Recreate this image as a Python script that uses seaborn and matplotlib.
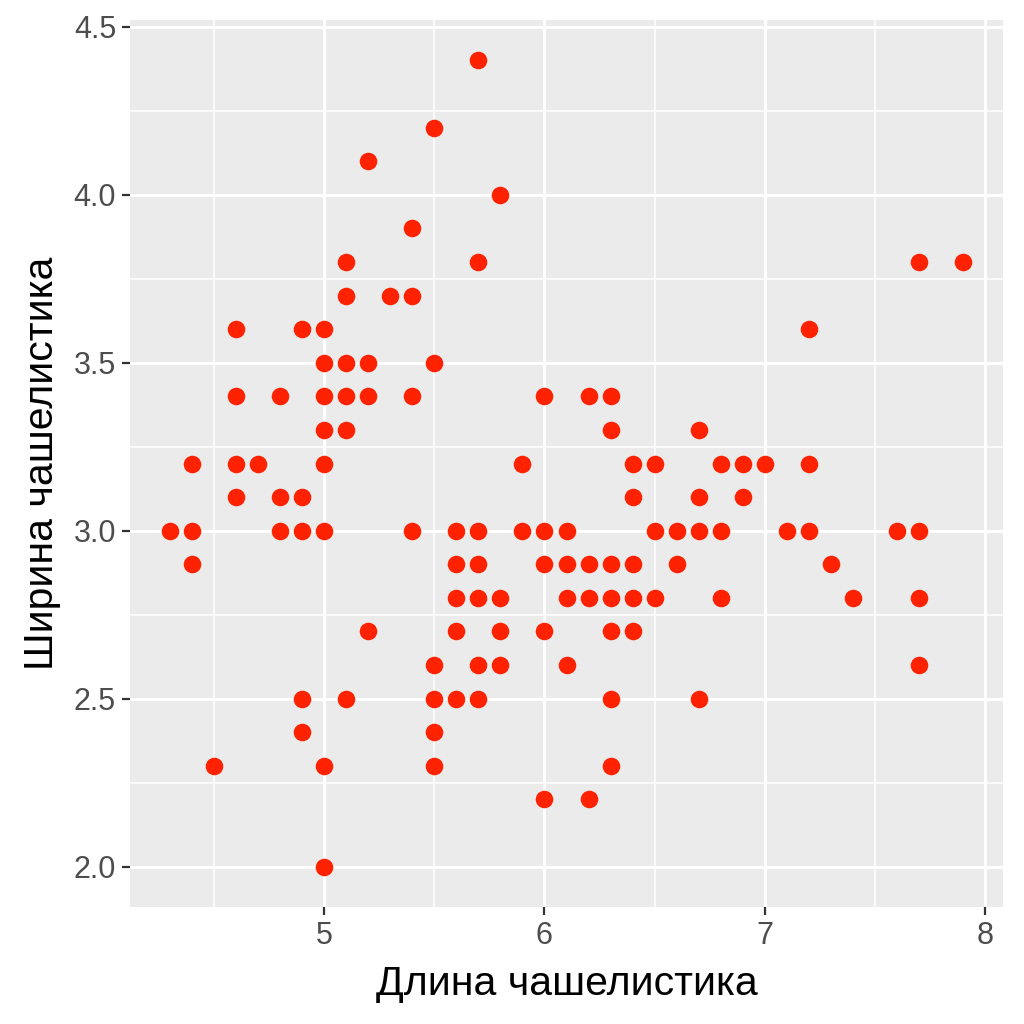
import numpy as np
import pandas as pd
import seaborn as sns
import matplotlib.pyplot as plt
from matplotlib.ticker import MultipleLocator

# iris: sepal length / sepal width
sepal_length = [5.1, 4.9, 4.7, 4.6, 5.0, 5.4, 4.6, 5.0, 4.4, 4.9, 5.4, 4.8, 4.8, 4.3, 5.8, 5.7, 5.4, 5.1, 5.7, 5.1,
                5.4, 5.1, 4.6, 5.1, 4.8, 5.0, 5.0, 5.2, 5.2, 4.7, 4.8, 5.4, 5.2, 5.5, 4.9, 5.0, 5.5, 4.9, 4.4, 5.1,
                5.0, 4.5, 4.4, 5.0, 5.1, 4.8, 5.1, 4.6, 5.3, 5.0,
                7.0, 6.4, 6.9, 5.5, 6.5, 5.7, 6.3, 4.9, 6.6, 5.2, 5.0, 5.9, 6.0, 6.1, 5.6, 6.7, 5.6, 5.8, 6.2, 5.6,
                5.9, 6.1, 6.3, 6.1, 6.4, 6.6, 6.8, 6.7, 6.0, 5.7, 5.5, 5.5, 5.8, 6.0, 5.4, 6.0, 6.7, 6.3, 5.6, 5.5,
                5.5, 6.1, 5.8, 5.0, 5.6, 5.7, 5.7, 6.2, 5.1, 5.7,
                6.3, 5.8, 7.1, 6.3, 6.5, 7.6, 4.9, 7.3, 6.7, 7.2, 6.5, 6.4, 6.8, 5.7, 5.8, 6.4, 6.5, 7.7, 7.7, 6.0,
                6.9, 5.6, 7.7, 6.3, 6.7, 7.2, 6.2, 6.1, 6.4, 7.2, 7.4, 7.9, 6.4, 6.3, 6.1, 7.7, 6.3, 6.4, 6.0, 6.9,
                6.7, 6.9, 5.8, 6.8, 6.7, 6.7, 6.3, 6.5, 6.2, 5.9]
sepal_width = [3.5, 3.0, 3.2, 3.1, 3.6, 3.9, 3.4, 3.4, 2.9, 3.1, 3.7, 3.4, 3.0, 3.0, 4.0, 4.4, 3.9, 3.5, 3.8, 3.8,
               3.4, 3.7, 3.6, 3.3, 3.4, 3.0, 3.4, 3.5, 3.4, 3.2, 3.1, 3.4, 4.1, 4.2, 3.1, 3.2, 3.5, 3.6, 3.0, 3.4,
               3.5, 2.3, 3.2, 3.5, 3.8, 3.0, 3.8, 3.2, 3.7, 3.3,
               3.2, 3.2, 3.1, 2.3, 2.8, 2.8, 3.3, 2.4, 2.9, 2.7, 2.0, 3.0, 2.2, 2.9, 2.9, 3.1, 3.0, 2.7, 2.2, 2.5,
               3.2, 2.8, 2.5, 2.8, 2.9, 3.0, 2.8, 3.0, 2.9, 2.6, 2.4, 2.4, 2.7, 2.7, 3.0, 3.4, 3.1, 2.3, 3.0, 2.5,
               2.6, 3.0, 2.6, 2.3, 2.7, 3.0, 2.9, 2.9, 2.5, 2.8,
               3.3, 2.7, 3.0, 2.9, 3.0, 3.0, 2.5, 2.9, 2.5, 3.6, 3.2, 2.7, 3.0, 2.5, 2.8, 3.2, 3.0, 3.8, 2.6, 2.2,
               3.2, 2.8, 2.8, 2.7, 3.3, 3.2, 2.8, 3.0, 2.8, 3.0, 2.8, 3.8, 2.8, 2.8, 2.6, 3.0, 3.4, 3.1, 3.0, 3.1,
               3.1, 3.1, 2.7, 3.2, 3.3, 3.0, 2.5, 3.0, 3.4, 3.0]

df = pd.DataFrame({'x': sepal_length, 'y': sepal_width})
# identical points overplot anyway; drop repeats so their edges don't look heavier
df_plot = df.drop_duplicates()

sns.set_style('darkgrid', {'axes.facecolor': '#EBEBEB', 'grid.color': 'white'})
plt.rcParams['font.family'] = ['Liberation Sans', 'DejaVu Sans']

fig = plt.figure(figsize=(10.24, 10.24), dpi=100)
ax = fig.add_axes([130 / 1024, 117 / 1024, 873 / 1024, 887 / 1024])

sns.scatterplot(data=df_plot, x='x', y='y', ax=ax, color='#FF2200', s=160, linewidth=0, zorder=3)

rx = df['x'].max() - df['x'].min()
ry = df['y'].max() - df['y'].min()
ax.set_xlim(df['x'].min() - 0.05 * rx, df['x'].max() + 0.05 * rx)
ax.set_ylim(df['y'].min() - 0.05 * ry, df['y'].max() + 0.05 * ry)
ax.set_xticks([5, 6, 7, 8])
ax.set_xticklabels(['5', '6', '7', '8'])
ax.set_yticks([2.0, 2.5, 3.0, 3.5, 4.0, 4.5])
ax.set_yticklabels(['2.0', '2.5', '3.0', '3.5', '4.0', '4.5'])
ax.xaxis.set_minor_locator(MultipleLocator(0.5))
ax.yaxis.set_minor_locator(MultipleLocator(0.25))
ax.grid(which='major', color='white', linewidth=2.2)
ax.grid(which='minor', color='white', linewidth=1.1)
ax.set_axisbelow(True)
for sp in ax.spines.values():
    sp.set_visible(False)

ax.tick_params(which='major', length=6, width=1.6, color='#333333', labelcolor='#4D4D4D',
               labelsize=22, pad=4, bottom=True, left=True)
ax.tick_params(which='minor', length=0)

ax.set_xlabel('Длина чашелистика', fontsize=29.5, color='black', labelpad=10)
ax.set_ylabel('Ширина чашелистика', fontsize=29.5, color='black', labelpad=9)

fig.savefig('out.png', dpi=100)
